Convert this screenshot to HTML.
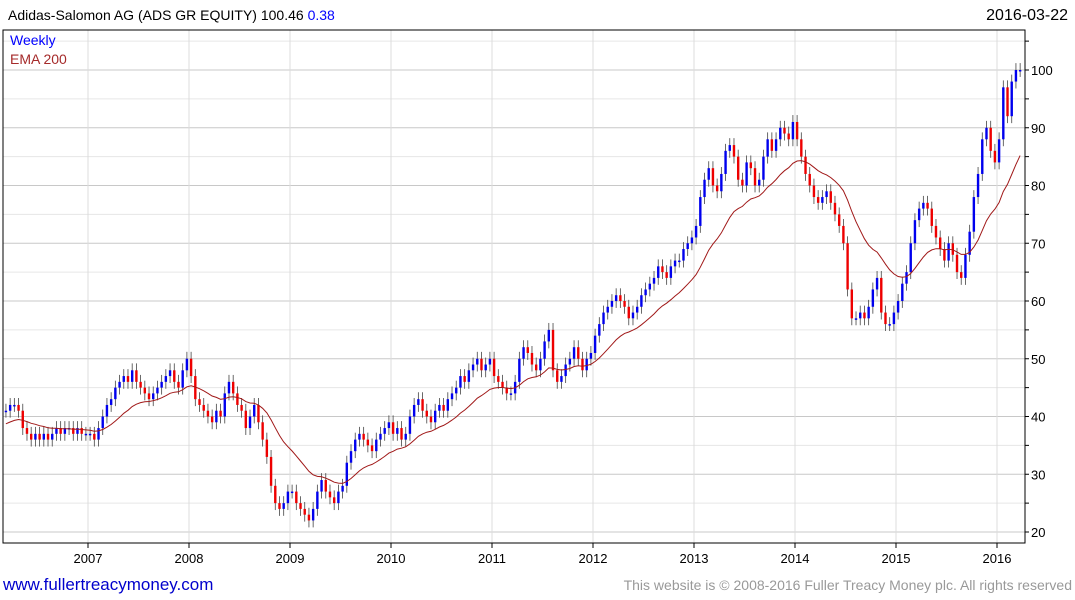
<!DOCTYPE html>
<html><head><meta charset="utf-8">
<style>
body{margin:0;background:#fff;width:1075px;height:600px;overflow:hidden;font-family:"Liberation Sans",sans-serif}
svg{display:block}
</style></head>
<body>
<svg id="chart" width="1075" height="600">
<text x="8" y="20" font-size="14" fill="#000">Adidas-Salomon AG (ADS GR EQUITY) 100.46 <tspan fill="#0000ff">0.38</tspan></text>
<text x="1068" y="20" font-size="16" text-anchor="end" fill="#000">2016-03-22</text>
<g id="grid"></g>
<g id="bars"></g>
<path id="ema" fill="none" stroke="#a01818" stroke-width="1"/>
<rect x="3" y="30" width="1022" height="513" fill="none" stroke="#000" stroke-width="1"/>
<g id="axes"></g>
<text x="10" y="45" font-size="14" fill="#0000ff">Weekly</text>
<text x="10" y="64" font-size="14" fill="#a52a2a">EMA 200</text>
<text x="3" y="590" font-size="17" fill="#0000cc">www.fullertreacymoney.com</text>
<text x="1072" y="590" font-size="14" text-anchor="end" fill="#999">This website is © 2008-2016 Fuller Treacy Money plc. All rights reserved</text>
</svg>
<script>
const years=[2007,2008,2009,2010,2011,2012,2013,2014,2015,2016];
const yTicks=[20,30,40,50,60,70,80,90,100];
const closes=[
41,42,42,41,38,37,36,37,36,37,36,37,38,37,38,38,37,38,37,37,
37,36,38,40,42,43,45,46,47,46,48,46,45,44,43,44,45,46,47,48,46,45,48,50,
47,43,42,41,40,39,41,40,44,46,44,42,41,38,40,42,39,36,33,28,25,24,25,27,
27,25,24,23,22,24,27,29,27,26,25,27,28,32,34,36,37,36,35,34,36,37,38,39,
37,38,36,37,40,42,43,41,40,39,41,42,41,43,44,45,47,46,48,49,50,48,49,50,
47,46,45,44,44,46,50,52,51,49,48,50,53,55,48,46,47,49,50,52,50,48,50,51,
54,56,58,59,60,61,60,59,57,58,59,61,62,63,64,66,65,64,66,67,67,69,70,71,
73,78,81,83,80,79,82,86,87,85,81,80,84,83,80,81,85,88,86,88,90,89,88,91,
88,85,82,80,78,77,78,79,77,75,73,70,62,57,57,58,57,59,62,64,58,56,56,58,
60,63,65,70,74,76,77,76,73,71,69,67,70,68,65,64,68,72,78,82,88,90,86,84,
88,97,92,98,100,100];
const startOpen=41;
const emaStart=38.5;

const NS="http://www.w3.org/2000/svg";
const X0=3,X1=1025,Y0=30,Y1=543;
function yS(v){return 532-(v-20)*5.775;}
function xT(t){return 88+(t-2007)*101;}
function xI(i){return xT(2006+(2+i*0.5+0.25)/12);}
function mk(tag,attrs,parent){const e=document.createElementNS(NS,tag);for(const k in attrs)e.setAttribute(k,attrs[k]);parent.appendChild(e);return e;}
const grid=document.getElementById('grid'),axes=document.getElementById('axes'),bars=document.getElementById('bars');
for(let v=20;v<=105;v+=5){
  const y=yS(v);
  const l=mk('line',{x1:X0,x2:X1,y1:y,y2:y,stroke:v%10===0?'#c8c8c8':'#e6e6e6','stroke-width':1},grid);
  
  
  const t=mk('line',{x1:X1,x2:X1+4,y1:y,y2:y,stroke:'#000'},axes);
  
  
}
yTicks.forEach(v=>{
  const t=mk('text',{x:1031,y:yS(v)+5,'font-size':13,fill:'#000'},axes);
  t.textContent=v;
  
  
});
years.forEach(yr=>{
  const x=xT(yr);
  const l=mk('line',{x1:x,x2:x,y1:Y0,y2:Y1,stroke:'#dcdcdc'},grid);
  
  
  const tk=mk('line',{x1:x,x2:x,y1:Y1,y2:Y1+5,stroke:'#000'},axes);
  
  
  const t=mk('text',{x:x,y:563,'font-size':13,'text-anchor':'middle',fill:'#000'},axes);
  t.textContent=yr;
  
  
});
let prev=startOpen,ema=emaStart,d='';
const k=2/(20+1);
closes.forEach((c,i)=>{
  const o=prev,x=xI(i),up=c>=o,col=up?'#0000ee':'#ee0000';
  const hi=Math.max(o,c)+1.2,lo=Math.min(o,c)-1.2;
  const w=mk('line',{x1:x,x2:x,y1:yS(hi),y2:yS(lo),stroke:'#444','stroke-width':0.8},bars);
  
  
  const b=mk('rect',{x:x-1.2,y:yS(Math.max(o,c)),width:2.4,height:Math.max(1.5,Math.abs(yS(o)-yS(c))),fill:col},bars);
  
  
  ema=ema+k*(c-ema);
  d+=(i?'L':'M')+x.toFixed(1)+','+yS(ema).toFixed(1);
  prev=c;
});
document.getElementById('ema').setAttribute('d',d);
</script>
</body></html>
